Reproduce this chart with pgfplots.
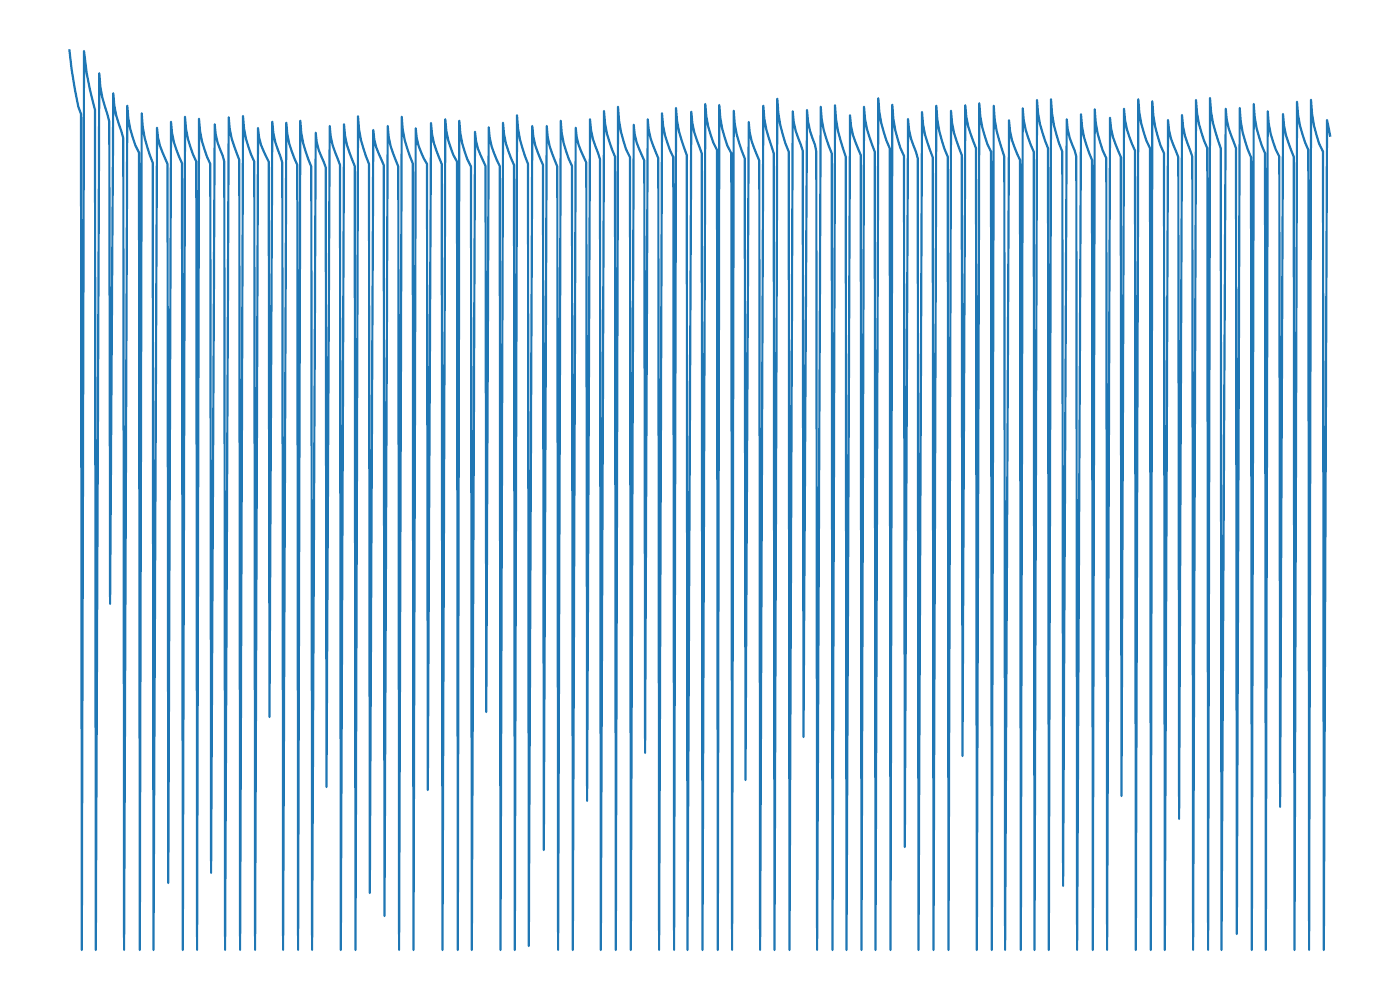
\documentclass[border=0pt]{standalone}
\usepackage{pgfplots}
\pgfplotsset{compat=1.18}
\definecolor{tabblue}{HTML}{1F77B4}
\begin{document}
\begin{tikzpicture}
\useasboundingbox (0,0) rectangle (14cm,10cm);
\begin{axis}[at={(0,0)}, anchor=south west, scale only axis, width=14cm, height=10cm,
  xmin=0, xmax=1400, ymin=0, ymax=1000, y dir=reverse, hide axis, clip=false]
\addplot[tabblue, line width=0.62pt, line join=round, mark=none] coordinates {
(69.3,49.3)(71.7,70)(75,90)(78.3,106.7)(81,114)(81.8,950)
(84,51)(86.7,73.3)(90,90)(93.3,103.3)(95,110)(95.8,950)
(99.3,73.3)(100.3,86.4)(102.3,97.5)(104.8,106.2)(107.3,114)(109.3,121.7)(110.1,604)
(113.3,93.3)(114.3,105.5)(116.3,115.8)(118.8,123.9)(121.3,131.1)(123.3,138.3)(124.1,950)
(127.3,105.7)(128.3,118.4)(130.3,129.2)(132.8,137.7)(135.3,145.2)(139,152.7)(139.8,950)
(141.7,113.3)(142.7,126.6)(144.7,138)(147.2,146.9)(149.7,154.8)(152.7,162.7)(153.5,950)
(157,127.7)(158,137.5)(160,145.9)(162.5,152.4)(165,158.2)(167.5,164)(168.3,883)
(171,121.7)(172,132.9)(174,142.5)(176.5,150)(179,156.6)(182,163.3)(182.8,950)
(185,116.7)(186,128.9)(188,139.2)(190.5,147.3)(193,154.5)(196.3,161.7)(197.1,950)
(199,118.7)(200,130.9)(202,141.4)(204.5,149.5)(207,156.8)(210.3,164)(211.1,873)
(214.7,124.3)(215.7,134.4)(217.7,143)(220.2,149.7)(222.7,155.7)(224.3,161.7)(225.1,950)
(228.7,117.3)(229.7,128.8)(231.7,138.7)(234.2,146.3)(236.7,153.2)(239.3,160)(240.1,950)
(243,116)(244,128.3)(246,138.9)(248.5,147.1)(251,154.4)(254.3,161.7)(255.1,950)
(258,128)(259,137.1)(261,144.9)(263.5,150.9)(266,156.3)(268.7,161.7)(269.5,717)
(272.3,121.7)(273.3,132.8)(275.3,142.2)(277.8,149.6)(280.3,156.1)(282.3,162.7)(283.1,950)
(286.3,122.7)(287.3,134.1)(289.3,143.9)(291.8,151.5)(294.3,158.2)(297.3,165)(298.1,950)
(300.3,120.7)(301.3,133.1)(303.3,143.7)(305.8,152)(308.3,159.3)(311.3,166.7)(312.1,950)
(315.7,132.7)(316.7,142)(318.7,150)(321.2,156.2)(323.7,161.8)(325.7,167.3)(326.5,787)
(329.7,126)(330.7,136.5)(332.7,145.5)(335.2,152.5)(337.7,158.8)(340,165)(340.8,950)
(344,124.3)(345,135.6)(347,145.2)(349.5,152.7)(352,159.3)(354.7,166)(355.5,950)
(358,116.3)(359,129.2)(361,140.2)(363.5,148.7)(366,156.4)(369,164)(369.8,893)
(373.3,130)(374.3,139.5)(376.3,147.5)(378.8,153.8)(381.3,159.4)(383.7,165)(384.5,916)
(387.7,126)(388.7,137)(390.7,146.4)(393.2,153.7)(395.7,160.2)(398.3,166.7)(399.1,950)
(401.7,116.7)(402.7,129.3)(404.7,140)(407.2,148.4)(409.7,155.8)(412.7,163.3)(413.5,950)
(415.7,128.3)(416.7,137.9)(418.7,146.2)(421.2,152.6)(423.7,158.3)(427,164)(427.8,790)
(431,123)(432,134.1)(434,143.5)(436.5,150.9)(439,157.4)(441.7,164)(442.5,950)
(445.3,119.3)(446.3,130.7)(448.3,140.5)(450.8,148.1)(453.3,154.9)(457,161.7)(457.8,950)
(459.3,120.7)(460.3,133.1)(462.3,143.7)(464.8,152)(467.3,159.3)(471,166.7)(471.8,950)
(475,131.7)(476,141)(478,148.9)(480.5,155)(483,160.5)(485.5,166)(486.3,712)
(488.7,127.3)(489.7,137.7)(491.7,146.7)(494.2,153.6)(496.7,159.8)(499.7,166)(500.5,950)
(503,122.7)(504,134.1)(506,143.9)(508.5,151.5)(511,158.2)(514,165)(514.8,950)
(517,115.3)(518,128.4)(520,139.7)(522.5,148.4)(525,156.2)(528,164)(528.8,946)
(532.3,126)(533.3,136.5)(535.3,145.5)(537.8,152.5)(540.3,158.8)(543,165)(543.8,850)
(546.7,126)(547.7,137)(549.7,146.4)(552.2,153.7)(554.7,160.2)(557.3,166.7)(558.1,950)
(560.7,120.7)(561.7,132.9)(563.7,143.4)(566.2,151.5)(568.7,158.8)(572,166)(572.8,950)
(575.7,127.7)(576.7,137.2)(578.7,145.2)(581.2,151.5)(583.7,157.1)(586.3,162.7)(587.1,801)
(590,119.3)(591,130.1)(593,139.3)(595.5,146.5)(598,152.9)(600,159.3)(600.8,950)
(604,111)(605,123.3)(607,133.9)(609.5,142.1)(612,149.4)(615,156.7)(615.8,950)
(618,106.7)(619,120.4)(621,132)(623.5,141.1)(626,149.2)(630,157.3)(630.8,950)
(633.7,124.7)(634.7,134.4)(636.7,142.7)(639.2,149.2)(641.7,154.9)(644.3,160.7)(645.1,753)
(647.7,119.3)(648.7,129.8)(650.7,138.8)(653.2,145.8)(655.7,152.1)(658.3,158.3)(659.1,950)
(662,113.3)(663,125.2)(665,135.3)(667.5,143.2)(670,150.3)(673.3,157.3)(674.1,950)
(676,108)(677,120.7)(679,131.5)(681.5,140)(684,147.5)(686.7,155)(687.5,950)
(691.3,111.7)(692.3,122.9)(694.3,132.5)(696.8,140)(699.3,146.6)(701.7,153.3)(702.5,950)
(705.3,104)(706.3,116.4)(708.3,127)(710.8,135.3)(713.3,142.6)(717,150)(717.8,950)
(719.3,105)(720.3,118)(722.3,129.2)(724.8,137.8)(727.3,145.6)(731.3,153.3)(732.1,950)
(733.7,110.7)(734.7,123.6)(736.7,134.5)(739.2,143.1)(741.7,150.7)(744.7,158.3)(745.5,780)
(748.7,122)(749.7,132.4)(751.7,141.4)(754.2,148.3)(756.7,154.5)(759.3,160.7)(760.1,950)
(763.3,105.7)(764.3,118.6)(766.3,129.5)(768.8,138.1)(771.3,145.7)(773.7,153.3)(774.5,950)
(777.3,98.7)(778.3,113)(780.3,125.2)(782.8,134.7)(785.3,143.2)(788.7,151.7)(789.5,950)
(792.7,111.3)(793.7,121.9)(795.7,131)(798.2,138.1)(800.7,144.4)(802.7,150.7)(803.5,737)
(807,110)(808,121.3)(810,130.9)(812.5,138.4)(815,145)(816.3,151.7)(817.1,950)
(820.7,106.7)(821.7,119.3)(823.7,130)(826.2,138.4)(828.7,145.8)(831.7,153.3)(832.5,950)
(835,105.3)(836,119.2)(838,131)(840.5,140.3)(843,148.5)(845.7,156.7)(846.5,950)
(850,115.3)(851,126)(853,135.2)(855.5,142.3)(858,148.6)(860.7,155)(861.5,950)
(864,106.7)(865,118.9)(867,129.2)(869.5,137.3)(872,144.5)(874.7,151.7)(875.5,950)
(878.3,98.3)(879.3,111.8)(881.3,123.3)(883.8,132.3)(886.3,140.3)(889.7,148.3)(890.5,950)
(892.3,104.7)(893.3,118.6)(895.3,130.4)(897.8,139.6)(900.3,147.8)(904,156)(904.8,847)
(908,119)(909,129.6)(911,138.7)(913.5,145.7)(916,152)(917.7,158.3)(918.5,950)
(922,112)(923,124.2)(925,134.7)(927.5,142.8)(930,150.1)(932.7,157.3)(933.5,950)
(936.3,105.7)(937.3,119.5)(939.3,131.2)(941.8,140.4)(944.3,148.5)(947.7,156.7)(948.5,950)
(951,110.7)(952,122.7)(954,132.9)(956.5,140.8)(959,147.9)(961.7,155)(962.5,756)
(965.3,105.3)(966.3,116.9)(968.3,126.8)(970.8,134.5)(973.3,141.4)(976,148.3)(976.8,950)
(979.3,103.3)(980.3,116.4)(982.3,127.5)(984.8,136.2)(987.3,144)(991,151.7)(991.8,950)
(993.7,105.7)(994.7,119.5)(996.7,131.2)(999.2,140.4)(1001.7,148.5)(1004.3,156.7)(1005.1,950)
(1009,120.3)(1010,131)(1012,140.2)(1014.5,147.3)(1017,153.6)(1020,160)(1020.8,950)
(1022.7,108.3)(1023.7,120)(1025.7,130)(1028.2,137.8)(1030.7,144.8)(1033.7,151.7)(1034.5,950)
(1037,100)(1038,113)(1040,124.2)(1042.5,132.8)(1045,140.6)(1048,148.3)(1048.8,950)
(1051,99.3)(1052,113.4)(1054,125.5)(1056.5,134.9)(1059,143.3)(1062.3,151.7)(1063.1,886)
(1066.7,119.3)(1067.7,129.4)(1069.7,138)(1072.2,144.7)(1074.7,150.7)(1076.3,156.7)(1077.1,950)
(1081,114.3)(1082,126.6)(1084,137.2)(1086.5,145.4)(1089,152.7)(1092,160)(1092.8,950)
(1094.7,109.3)(1095.7,122.5)(1097.7,133.8)(1100.2,142.6)(1102.7,150.5)(1106.3,158.3)(1107.1,950)
(1110,117.7)(1111,128.2)(1113,137.2)(1115.5,144.2)(1118,150.5)(1120.7,156.7)(1121.5,796)
(1124,108.7)(1125,120)(1127,129.7)(1129.5,137.3)(1132,144)(1135,150.7)(1135.8,950)
(1138.3,99.3)(1139.3,112.5)(1141.3,123.8)(1143.8,132.6)(1146.3,140.5)(1150,148.3)(1150.8,950)
(1152.3,101.3)(1153.3,115.3)(1155.3,127.3)(1157.8,136.7)(1160.3,145)(1164,153.3)(1164.8,950)
(1168,120)(1169,130.1)(1171,138.7)(1173.5,145.4)(1176,151.3)(1178.3,157.3)(1179.1,819)
(1182,115)(1183,126.3)(1185,135.9)(1187.5,143.4)(1190,150)(1192.3,156.7)(1193.1,950)
(1196,100)(1197,113)(1199,124.2)(1201.5,132.8)(1204,140.6)(1207.3,148.3)(1208.1,950)
(1210,98)(1211,111.6)(1213,123.2)(1215.5,132.2)(1218,140.3)(1220.7,148.3)(1221.5,950)
(1225.7,108.7)(1226.7,119.4)(1228.7,128.5)(1231.2,135.6)(1233.7,142)(1236,148.3)(1236.8,934)
(1239.7,108)(1240.7,121.3)(1242.7,132.7)(1245.2,141.5)(1247.7,149.4)(1251,157.3)(1251.8,950)
(1253.7,104)(1254.7,117.3)(1256.7,128.7)(1259.2,137.5)(1261.7,145.4)(1265,153.3)(1265.8,950)
(1267.7,111.3)(1268.7,123.6)(1270.7,134)(1273.2,142.2)(1275.7,149.4)(1279.3,156.7)(1280.1,807)
(1283,114)(1284,125.5)(1286,135.4)(1288.5,143)(1291,149.9)(1293.7,156.7)(1294.5,950)
(1297,101.7)(1298,114.7)(1300,125.9)(1302.5,134.5)(1305,142.3)(1308.3,150)(1309.1,950)
(1311,99.7)(1312,113.7)(1314,125.7)(1316.5,135.1)(1319,143.4)(1323,151.7)(1323.8,950)
(1327,120)(1328.7,128.3)(1330.3,136.7)
};
\end{axis}
\end{tikzpicture}
\end{document}
